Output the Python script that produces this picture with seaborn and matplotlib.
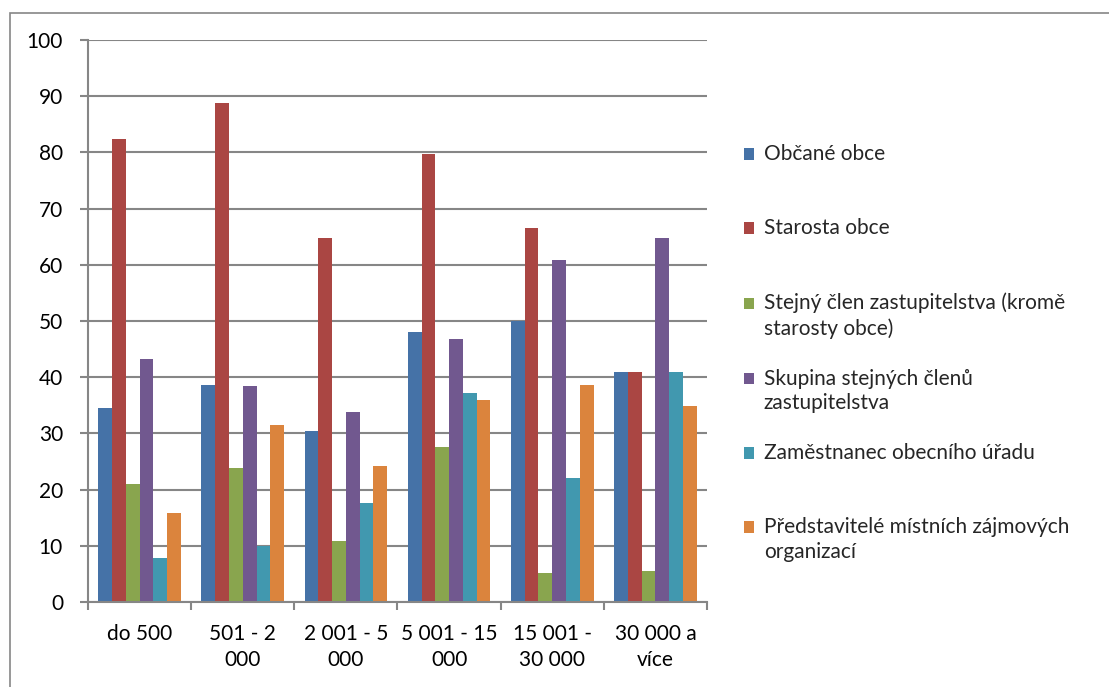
import matplotlib
matplotlib.use("Agg")
import matplotlib.pyplot as plt
from matplotlib.patches import Rectangle, Patch
from matplotlib.legend_handler import HandlerPatch
import seaborn as sns
import pandas as pd

categories = ["do 500", "501 - 2\n000", "2 001 - 5\n000", "5 001 - 15\n000",
              "15 001 -\n30 000", "30 000 a\nvíce"]
series = ["Občané obce", "Starosta obce",
          "Stejný člen zastupitelstva (kromě\nstarosty obce)",
          "Skupina stejných členů\nzastupitelstva",
          "Zaměstnanec obecního úřadu",
          "Představitelé místních zájmových\norganizací"]
obcane = [34.6, 38.7, 30.4, 48.0, 50.0, 41.0]
starosta = [82.4, 88.8, 64.7, 79.7, 66.6, 41.0]
clen = [21.0, 23.9, 10.8, 27.6, 5.2, 5.6]
skupina = [43.3, 38.5, 33.8, 46.8, 60.9, 64.7]
zamestnanec = [7.9, 10.0, 17.6, 37.2, 22.0, 41.0]
predstavitele = [15.9, 31.5, 24.2, 36.0, 38.7, 34.9]
colors = ["#4572A7", "#AA4643", "#89A54E", "#71588F", "#4198AF", "#DB843D"]

values = [obcane, starosta, clen, skupina, zamestnanec, predstavitele]
rows = []
for s, vals in zip(series, values):
    for c, v in zip(categories, vals):
        rows.append({"cat": c, "series": s, "val": v})
df = pd.DataFrame(rows)

sns.set_theme(style="white")
plt.rcParams['font.family'] = ['Lato', 'DejaVu Sans']
FS = 15
LS = 1.3
grey = "#868686"

fig = plt.figure(figsize=(11.09, 6.87), dpi=100)
ax = fig.add_axes([88 / 1109, 1 - 602 / 687, (707 - 88) / 1109, (602 - 40) / 687])

sns.barplot(data=df, x="cat", y="val", hue="series", order=categories,
            hue_order=series, palette=colors, width=0.8, gap=0,
            saturation=1, linewidth=0, ax=ax, errorbar=None)

ax.set_xlim(-0.5, 5.5)
ax.set_ylim(0, 100)
ax.set_yticks(range(0, 101, 10))
ax.set_xlabel("")
ax.set_ylabel("")
ax.yaxis.grid(True, color=grey, linewidth=1.5)
ax.set_axisbelow(True)
for sp in ["top", "right"]:
    ax.spines[sp].set_visible(False)
for sp in ["left", "bottom"]:
    ax.spines[sp].set_color(grey)
    ax.spines[sp].set_linewidth(1.5)

ax.tick_params(axis="y", which="major", length=6, width=1.5, color=grey,
               pad=12, labelsize=FS, labelcolor="black", left=True)
ax.set_xticks(range(len(categories)))
ax.set_xticklabels(categories, linespacing=1.35)
ax.tick_params(axis="x", which="major", length=0, pad=16, labelsize=FS,
               labelcolor="black")
ax.set_xticks([i - 0.5 for i in range(len(categories) + 1)], minor=True)
ax.tick_params(axis="x", which="minor", length=6, width=1.5, color=grey,
               bottom=True)

# legend: every entry occupies two lines, marker at the first line
SHIFT = 0.5 * LS * FS * 0.96


def top_square(legend, orig_handle, xdescent, ydescent, width, height, fontsize):
    return Rectangle((-xdescent, -ydescent + SHIFT), width, height)


handles, labels = ax.get_legend_handles_labels()
labels2 = [l if "\n" in l else l + "\n " for l in labels]
leg = ax.legend(handles, labels2, loc="upper left",
                bbox_to_anchor=(744 / 1109, 1 - 144 / 687),
                bbox_transform=fig.transFigure, frameon=False, fontsize=FS,
                handlelength=0.5, handleheight=0.5, handletextpad=0.45,
                labelspacing=1.42, borderaxespad=0, borderpad=0,
                handler_map={Patch: HandlerPatch(patch_func=top_square)})
for t in leg.get_texts():
    t.set_linespacing(LS)

fig.patches.append(Rectangle((10 / 1109, -0.05), 1.1, 1 - 13 / 687 + 0.05,
                             transform=fig.transFigure, fill=False,
                             edgecolor=grey, linewidth=1.2))

fig.savefig("out.png", dpi=100)
